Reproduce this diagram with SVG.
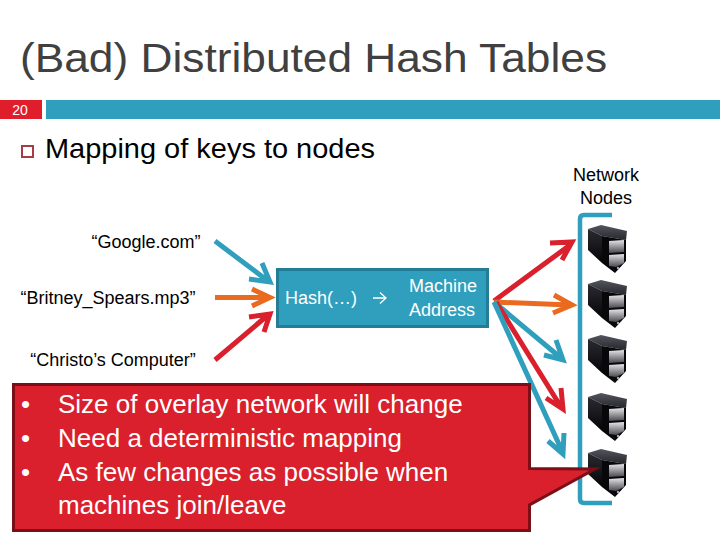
<svg xmlns="http://www.w3.org/2000/svg" width="720" height="540" viewBox="0 0 720 540">
<style>
text{font-family:"Liberation Sans",Arial,sans-serif}
.k{fill:#000;font-size:18px;text-anchor:middle}
.w{fill:#fff;font-size:18px}
.c{font-size:26px;fill:#fff}
.a{fill:none;stroke-width:5;stroke-linejoin:miter}
.t{stroke:#2f9fbd}.o{stroke:#ea6b1f}.r{stroke:#d9202c}
</style>
<defs>
<linearGradient id="g1" x1="0" y1="0" x2="0" y2="1"><stop offset="0" stop-color="#55555f"/><stop offset="1" stop-color="#26262c"/></linearGradient>
<linearGradient id="g2" x1="0" y1="0" x2="0" y2="1"><stop offset="0" stop-color="#2a2a32"/><stop offset="1" stop-color="#050507"/></linearGradient>
<linearGradient id="g3" x1="0" y1="0" x2="0" y2="1"><stop offset="0" stop-color="#e6e6e8"/><stop offset="1" stop-color="#4a4a50"/></linearGradient>
<g id="srv">
<path d="M0 4 L13 0 L39 6 L38 15 L14 11 Z" fill="url(#g1)"/>
<path d="M0 4 L14 11 L14 38 L0 25 Z" fill="url(#g2)"/>
<path d="M14 11 L38 15 L38 36 L27 48 L14 38 Z" fill="#08080b"/>
<path d="M21 16 L36 15 L36 27 L21 28 Z" fill="url(#g3)"/>
<path d="M21 30 L36 29 L36 38 L28 42 L21 41 Z" fill="url(#g3)"/>
<circle cx="30" cy="43" r="1.2" fill="#aaa"/>
</g>
</defs>
<rect width="720" height="540" fill="#fff"/>
<text x="20" y="72" font-size="40" fill="#404040" textLength="587" lengthAdjust="spacingAndGlyphs">(Bad) Distributed Hash Tables</text>
<rect x="0" y="100" width="42" height="19" fill="#e01e2b"/>
<text x="20" y="115" font-size="14" fill="#fff" text-anchor="middle">20</text>
<rect x="46" y="100" width="674" height="19" fill="#2f9fbd"/>
<rect x="22" y="146" width="11" height="11" fill="#fff" stroke="#a83c46" stroke-width="2"/>
<text x="45" y="158" font-size="27.5" fill="#000" textLength="330" lengthAdjust="spacingAndGlyphs">Mapping of keys to nodes</text>
<g id="label-network"><text class="k" x="606" y="181">Network</text><text class="k" x="606" y="204">Nodes</text></g>
<g id="key-google"><text class="k" x="146" y="248">“Google.com”</text></g>
<g id="key-britney"><text class="k" x="108" y="304">“Britney_Spears.mp3”</text></g>
<g id="key-christo"><text class="k" x="113" y="366">“Christo’s Computer”</text></g>
<g id="hash">
<rect x="277.500" y="269.500" width="210" height="57" fill="#2f9fbd" stroke="#237d96" stroke-width="3"/>
<text class="w" x="285" y="304">Hash(…) </text>
<path d="M373 298 H386 M380 292.500 L386 298 L380 303.500" fill="none" stroke="#fff" stroke-width="1.300"/>
<text class="w" x="443" y="292" text-anchor="middle">Machine</text>
<text class="w" x="442" y="316" text-anchor="middle">Address</text>
</g>
<g id="connectors">
<path class="a t" d="M215 241 L268 281 M262 263 L270 282 L249 279"/>
<path class="a o" d="M215 297.500 L268 297.500 M252 289 L270 297.500 L252 306"/>
<path class="a r" d="M215 360 L268 315 M249 317 L270 314 L264 332"/>
<path class="a r" d="M494 301 L570 245 M550 243 L572 242 L562 260"/>
<path class="a o" d="M494 302 L570 305 M554 295 L572 305 L553 313"/>
<path class="a t" d="M494 302 L561 358 M556 340 L563 360 L544 355"/>
<path class="a r" d="M496 302 L561 407 M561 388 L563 409 L546 398"/>
<path class="a t" d="M494 302 L563 453 M564 433 L563 454 L548 441"/>
<path d="M612 215 H584 Q580 215 580 219 V499 Q580 503 584 503 H612" fill="none" stroke="#2f9fbd" stroke-width="4.500"/>
</g>
<g id="server-1"><use href="#srv" x="588" y="225"/></g>
<g id="server-2"><use href="#srv" x="588" y="280"/></g>
<g id="server-3"><use href="#srv" x="588" y="335"/></g>
<g id="server-4"><use href="#srv" x="588" y="393"/></g>
<g id="server-5"><use href="#srv" x="588" y="449"/></g>
<g id="callout">
<path d="M13.500 384.500 H529.500 V468.500 L595 469 L529.500 505 V530.500 H13.500 Z" fill="#d9202c" stroke="#7a0f17" stroke-width="3"/>
<text class="c" x="21" y="413">•</text><text class="c" x="58" y="413">Size of overlay network will change</text>
<text class="c" x="21" y="447">•</text><text class="c" x="58" y="447">Need a deterministic mapping</text>
<text class="c" x="21" y="481">•</text><text class="c" x="58" y="481">As few changes as possible when</text>
<text class="c" x="58" y="514">machines join/leave</text>
</g>
</svg>
